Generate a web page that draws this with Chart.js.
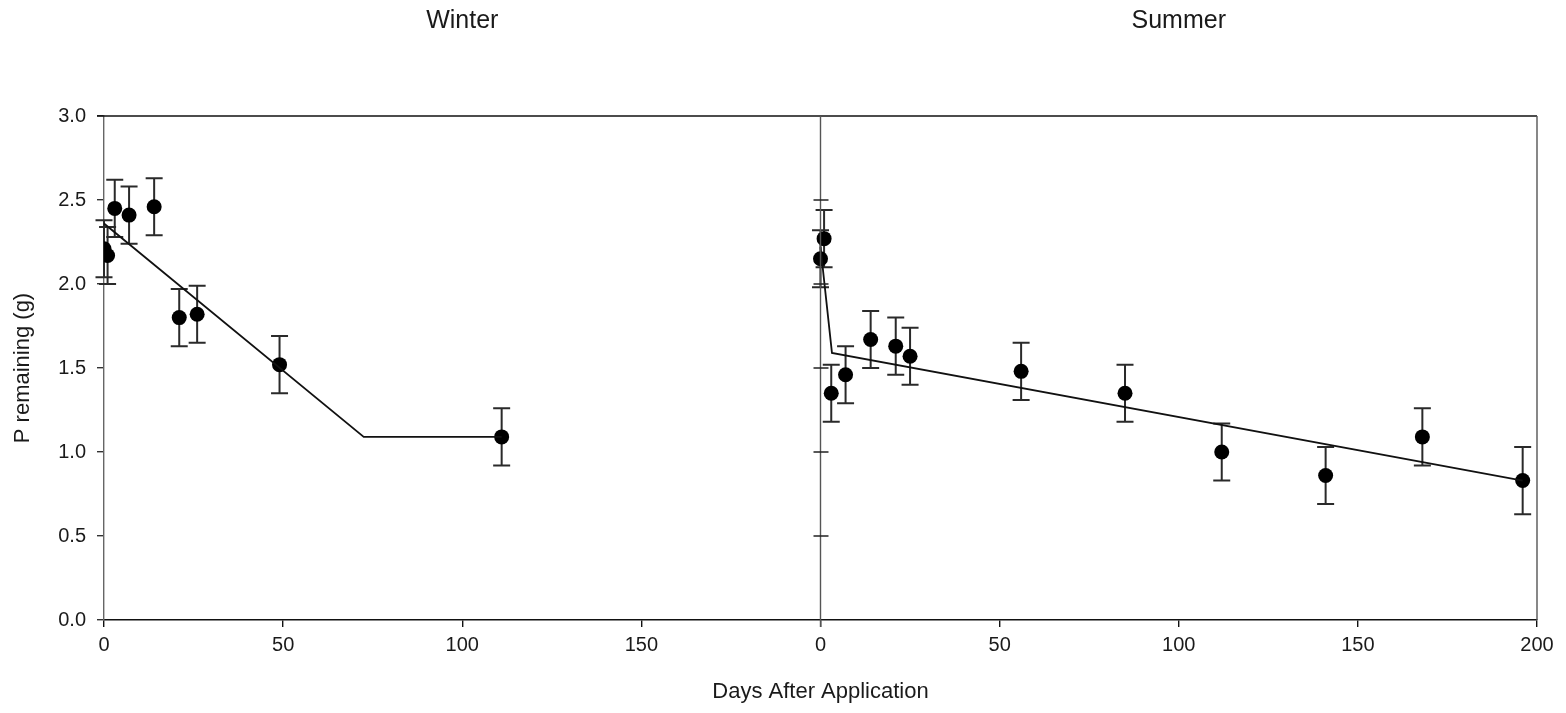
<!DOCTYPE html>
<html>
<head>
<meta charset="utf-8">
<script src="https://cdn.jsdelivr.net/npm/chart.js@4.4.0/dist/chart.umd.min.js"></script>
<style>
  html, body { margin: 0; padding: 0; background: #fff; }
  #wrap { position: relative; width: 1566px; height: 713px; }
</style>
</head>
<body>
<div id="wrap"><canvas id="chart" width="1566" height="713"></canvas></div>
<script>
// Winter measurements
const winterDays = [0, 1, 3, 7, 14, 21, 26, 49, 111];
const winterP    = [2.21, 2.17, 2.45, 2.41, 2.46, 1.80, 1.82, 1.52, 1.09];
const winterErr  = [0.17, 0.17, 0.17, 0.17, 0.17, 0.17, 0.17, 0.17, 0.17];
// Winter fitted line
const winterFitDays = [0, 72.5, 111];
const winterFitP    = [2.36, 1.09, 1.09];

// Summer measurements
const summerDays = [0, 1, 3, 7, 14, 21, 25, 56, 85, 112, 141, 168, 196];
const summerP    = [2.15, 2.27, 1.35, 1.46, 1.67, 1.63, 1.57, 1.48, 1.35, 1.00, 0.86, 1.09, 0.83];
const summerErr  = [0.17, 0.17, 0.17, 0.17, 0.17, 0.17, 0.17, 0.17, 0.17, 0.17, 0.17, 0.17, 0.20];
// Summer fitted line
const summerFitDays = [0, 3.2, 196];
const summerFitP    = [2.22, 1.59, 0.83];

// axis labels
const panelTitles = ['Winter', 'Summer'];
const yTitle = 'P remaining (g)';
const xTitle = 'Days After Application';

// summer panel sits to the right of winter on one shared x scale
const SUMMER_OFFSET = 200;

const FONT = 'Liberation Sans, Arial, sans-serif';

function pts(xs, ys, off) {
  return xs.map((x, i) => ({x: x + off, y: ys[i]}));
}

// error bars, panel frame, second y axis and panel titles
const extras = {
  id: 'extras',
  beforeDatasetsDraw(chart) {
    const ctx = chart.ctx;
    const xs = chart.scales.x, ys = chart.scales.y;
    ctx.save();
    ctx.strokeStyle = '#2a2a2a';
    ctx.lineWidth = 2;
    const sets = [[winterDays, winterP, winterErr, 0], [summerDays, summerP, summerErr, SUMMER_OFFSET]];
    for (const [d, p, e, off] of sets) {
      d.forEach((day, i) => {
        const px = xs.getPixelForValue(day + off);
        const top = ys.getPixelForValue(p[i] + e[i]);
        const bot = ys.getPixelForValue(p[i] - e[i]);
        ctx.beginPath();
        ctx.moveTo(px, top); ctx.lineTo(px, bot);
        ctx.moveTo(px - 8.5, top); ctx.lineTo(px + 8.5, top);
        ctx.moveTo(px - 8.5, bot); ctx.lineTo(px + 8.5, bot);
        ctx.stroke();
      });
    }
    ctx.restore();
  },
  afterDraw(chart) {
    const ctx = chart.ctx;
    const a = chart.chartArea;
    const xs = chart.scales.x, ys = chart.scales.y;
    ctx.save();
    // top border
    ctx.strokeStyle = '#111';
    ctx.lineWidth = 1.4;
    ctx.beginPath();
    ctx.moveTo(a.left - 7, a.top); ctx.lineTo(a.right, a.top);
    ctx.stroke();
    // right border
    ctx.strokeStyle = '#555';
    ctx.beginPath();
    ctx.moveTo(a.right, a.top); ctx.lineTo(a.right, a.bottom);
    ctx.stroke();
    // summer y axis, ticks on both sides
    const mid = xs.getPixelForValue(SUMMER_OFFSET);
    ctx.beginPath();
    ctx.moveTo(mid, a.top); ctx.lineTo(mid, a.bottom + 7);
    ctx.stroke();
    ctx.strokeStyle = '#222';
    ctx.beginPath();
    for (const t of ys.ticks) {
      if (t.value <= 0 || t.value >= 3) continue;
      const py = ys.getPixelForValue(t.value);
      ctx.moveTo(mid - 7, py); ctx.lineTo(mid + 8, py);
    }
    ctx.stroke();
    // panel titles
    ctx.fillStyle = '#1a1a1a';
    ctx.font = '25px ' + FONT;
    ctx.textAlign = 'center';
    ctx.textBaseline = 'middle';
    ctx.fillText(panelTitles[0], xs.getPixelForValue(100), 21);
    ctx.fillText(panelTitles[1], xs.getPixelForValue(SUMMER_OFFSET + 100), 21);
    ctx.restore();
  }
};

new Chart(document.getElementById('chart'), {
  type: 'scatter',
  data: {
    datasets: [
      {
        type: 'line', data: pts(winterFitDays, winterFitP, 0),
        borderColor: '#111', borderWidth: 1.8, pointRadius: 0, tension: 0
      },
      {
        type: 'line', data: pts(summerFitDays, summerFitP, SUMMER_OFFSET),
        borderColor: '#111', borderWidth: 1.8, pointRadius: 0, tension: 0
      },
      {
        data: pts(winterDays, winterP, 0),
        backgroundColor: '#000', borderColor: '#000', pointRadius: 7.5, borderWidth: 0
      },
      {
        data: pts(summerDays, summerP, SUMMER_OFFSET),
        backgroundColor: '#000', borderColor: '#000', pointRadius: 7.5, borderWidth: 0
      }
    ]
  },
  options: {
    responsive: false,
    animation: false,
    layout: { padding: { top: 116, right: 29, left: 0, bottom: 0 } },
    plugins: { legend: { display: false }, tooltip: { enabled: false } },
    scales: {
      x: {
        type: 'linear', min: 0, max: 400,
        afterFit: s => { s.height = 93; },
        ticks: {
          stepSize: 50, color: '#1a1a1a', padding: 6,
          font: { size: 20, family: FONT },
          callback: v => (v > SUMMER_OFFSET ? v - SUMMER_OFFSET : (v === SUMMER_OFFSET ? 0 : v))
        },
        grid: { drawOnChartArea: false, tickLength: 7, color: '#111', lineWidth: 1.4 },
        border: { color: '#111', width: 1.4 },
        title: {
          display: true, text: xTitle, color: '#1a1a1a',
          font: { size: 22, family: FONT }, padding: { top: 0, bottom: 8 }
        }
      },
      y: {
        min: 0, max: 3,
        afterFit: s => { s.width = 104; },
        ticks: {
          stepSize: 0.5, color: '#1a1a1a', padding: 11,
          font: { size: 20, family: FONT },
          callback: v => v.toFixed(1)
        },
        grid: { drawOnChartArea: false, tickLength: 7, color: '#333', lineWidth: 1.4 },
        border: { color: '#666', width: 1.4 },
        title: {
          display: true, text: yTitle, color: '#1a1a1a',
          font: { size: 22, family: FONT }, padding: { top: 10, bottom: 0 }
        }
      }
    }
  },
  plugins: [extras]
});
</script>
</body>
</html>
